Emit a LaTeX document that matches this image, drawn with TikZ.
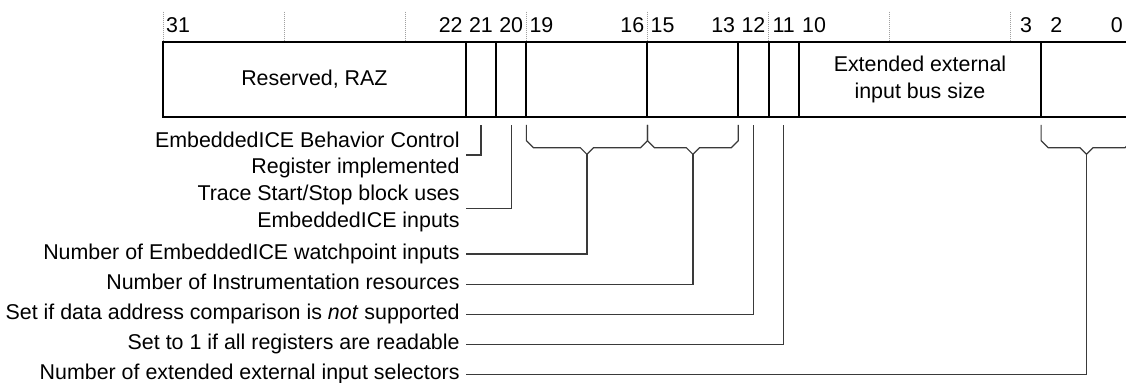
\documentclass[tikz,border=0pt]{standalone}
\usepackage{fontspec}
\setmainfont{Liberation Sans}
\usepackage{tikz}
\usetikzlibrary{positioning,calc}
\definecolor{rgline}{RGB}{0,0,0}
\definecolor{rglead}{RGB}{58,58,58}
\definecolor{rgtick}{RGB}{160,160,160}
\newcommand{\bitw}{15.14pt}
\tikzset{
  regFont/.style={font=\fontsize{10.7}{13.35}\selectfont},
  regField/.style={draw=rgline, line width=1pt, outer sep=0pt, inner sep=0pt,
                   minimum height=37.8pt, anchor=north west, align=center,
                   regFont},
  regBit/.style={anchor=base, inner sep=0pt, regFont},
  regLabel/.style={anchor=east, align=right, inner xsep=3pt, inner ysep=0pt,
                   regFont},
  regOne/.style={regLabel, text height=0.73em, text depth=0.21em},
  regLead/.style={draw=rglead, line width=0.6pt},
  regTick/.style={draw=rgtick, line width=0.5pt, dash pattern=on 0.5pt off 0.5pt}
}

\begin{document}
\begin{tikzpicture}[x=0.5pt, y=-0.5pt]
  \useasboundingbox (0,0) rectangle (1126,383);
  \clip (0,0) rectangle (1126,383);

  % bit ruler
  \foreach \n in {0,4,...,28}
    \draw[regTick] ({163+\n*30.28},11.7) -- ({163+\n*30.28},40);
  \foreach \b in {31,22,21,20,19,16,15,13,12,11,10,3,2,0}
    \node[regBit] (b\b) at ({163+(31.5-\b)*30.28},33) {\b};

  % register fields
  \node[regField, minimum width=10*\bitw] (f31) at (163,41.7) {Reserved, RAZ};
  \node[regField, minimum width=\bitw, right=0pt of f31] (f21) {};
  \node[regField, minimum width=\bitw, right=0pt of f21] (f20) {};
  \node[regField, minimum width=4*\bitw, right=0pt of f20] (f19) {};
  \node[regField, minimum width=3*\bitw, right=0pt of f19] (f15) {};
  \node[regField, minimum width=\bitw, right=0pt of f15] (f12) {};
  \node[regField, minimum width=\bitw, right=0pt of f12] (f11) {};
  \node[regField, minimum width=8*\bitw, right=0pt of f11] (f10) {Extended external\\input bus size};
  \node[regField, minimum width=3*\bitw, right=0pt of f10] (f2) {};

  % descriptions
  \node[regLabel] (lbhc) at (466,155) {EmbeddedICE Behavior Control\\Register implemented};
  \node[regLabel] (ltss) at (466,208.3) {Trace Start/Stop block uses\\EmbeddedICE inputs};
  \node[regOne] (lwp) at (466,254) {Number of EmbeddedICE watchpoint inputs};
  \node[regOne] (lins) at (466,284.2) {Number of Instrumentation resources};
  \node[regOne] (ldac) at (466,314.4) {Set if data address comparison is \emph{not} supported};
  \node[regOne] (lrd) at (466,344.6) {Set to 1 if all registers are readable};
  \node[regOne] (lsel) at (466,374.8) {Number of extended external input selectors};

  % braces under multi-bit fields
  \draw[regLead] ($(f19.south west)+(0,7.7)$) -- ++(0,15.7) -- ++(7,7)
    -- ($(f19.south)+(-6.6,30.4)$) -- ++(6.6,6.6) coordinate (t19) -- ++(6.6,-6.6)
    -- ($(f19.south east)+(-7,30.4)$) -- ++(7,-7) -- ++(0,-15.7);
  \draw[regLead] ($(f15.south west)+(0,7.7)$) -- ++(0,15.7) -- ++(7,7)
    -- ($(f15.south)+(-6.6,30.4)$) -- ++(6.6,6.6) coordinate (t15) -- ++(6.6,-6.6)
    -- ($(f15.south east)+(-7,30.4)$) -- ++(7,-7) -- ++(0,-15.7);
  \draw[regLead] ($(f2.south west)+(0,7.7)$) -- ++(0,15.7) -- ++(7,7)
    -- ($(f2.south)+(-6.6,30.4)$) -- ++(6.6,6.6) coordinate (t2) -- ++(6.6,-6.6)
    -- ($(f2.south east)+(-7,30.4)$) -- ++(7,-7) -- ++(0,-15.7);

  % leaders
  \draw[regLead] (lbhc.east) -| ($(f21.south)+(0,7.7)$);
  \draw[regLead] (ltss.east) -| ($(f20.south)+(0,7.7)$);
  \draw[regLead] (lwp.east) -| (t19);
  \draw[regLead] (lins.east) -| (t15);
  \draw[regLead] (ldac.east) -| ($(f12.south)+(0,7.7)$);
  \draw[regLead] (lrd.east) -| ($(f11.south)+(0,7.7)$);
  \draw[regLead] (lsel.east) -| (t2);
\end{tikzpicture}
\end{document}
